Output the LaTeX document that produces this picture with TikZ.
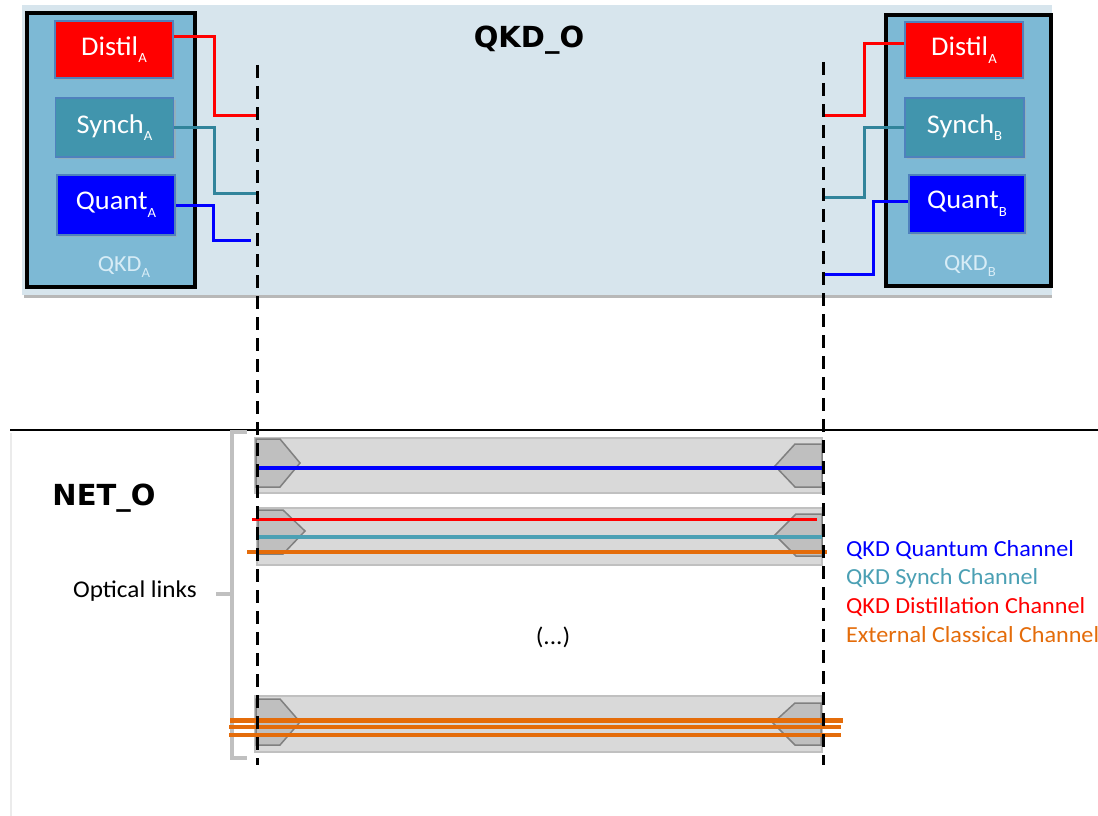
\documentclass[tikz,border=0pt]{standalone}
\usepackage{fontspec}
\setmainfont{Carlito}[FakeStretch=1.05]
\newfontfamily\titlefont{DejaVu Sans}
\usetikzlibrary{calc,shadows}
\definecolor{panelc}{RGB}{215,229,237}
\definecolor{qkdfill}{RGB}{125,185,213}
\definecolor{modborder}{RGB}{79,129,189}
\definecolor{synchfill}{RGB}{65,149,173}
\definecolor{tealline}{RGB}{49,132,155}
\definecolor{tealch}{RGB}{75,160,180}
\definecolor{orangec}{RGB}{228,108,10}
\definecolor{tubefill}{RGB}{217,217,217}
\definecolor{tubeborder}{RGB}{192,192,192}
\definecolor{connfill}{RGB}{191,191,191}
\definecolor{connborder}{RGB}{128,128,128}
\definecolor{qkdlabel}{RGB}{215,236,246}
\newcommand\subsc[1]{\raisebox{-0.28em}{\fontsize{14}{14}\selectfont #1}}
\tikzset{
  qkdbox/.style={draw=black, line width=3.5pt, fill=qkdfill, inner sep=0pt,
    drop shadow={shadow xshift=2pt, shadow yshift=-2pt, fill=black!40}},
  modbox/.style={draw=modborder, line width=1.5pt, text=white, inner sep=0pt,
    minimum width=118, minimum height=57, font=\fontsize{27}{27}\selectfont,
    drop shadow={shadow xshift=2pt, shadow yshift=-2pt, fill=black!35}},
  qkdlab/.style={text=qkdlabel, font=\fontsize{23}{23}\selectfont},
  wire/.style={line width=3pt},
  dashline/.style={line width=3pt, dash pattern=on 13pt off 8pt},
  tube/.style={draw=tubeborder, fill=tubefill, line width=2pt, inner sep=0pt},
  conn/.style={draw=connborder, fill=connfill, line width=1.5pt},
  chan/.style={line width=3.5pt},
  legend/.style={anchor=west, inner sep=0pt, font=\fontsize{23}{23}\selectfont},
  bracket/.style={draw=tubeborder, line width=4pt},
  titletext/.style={font=\titlefont\bfseries\fontsize{29}{29}\selectfont}
}
\begin{document}
\begin{tikzpicture}[x=1pt,y=-1pt]
\useasboundingbox (0,0) rectangle (1098,816);
\fill[white] (0,0) rectangle (1098,816);
% QKD_O panel
\fill[black!28] (24,294) rectangle (1052,298);
\fill[panelc] (22,5) rectangle (1052,295);
\node[titletext] (qkdo) at (529,40) {QKD\_O};
% left QKD box
\node[qkdbox, minimum width=168, minimum height=274] (qkdA) at (111,150) {};
\node[qkdlab] (qkdAlab) at (124,267) {QKD\subsc{A}};
\node[modbox, fill=red] (distA) at (114,49.5) {Distil\subsc{A}};
\node[modbox, fill=synchfill, minimum height=59] (synA) at (114.5,127.5) {Synch\subsc{A}};
\node[modbox, fill=blue, minimum height=60] (quantA) at (116,205) {Quant\subsc{A}};
% right QKD box
\node[qkdbox, minimum width=165, minimum height=271] (qkdB) at (968.5,150.5) {};
\node[qkdlab] (qkdBlab) at (970,266) {QKD\subsc{B}};
\node[modbox, fill=red, minimum height=56] (distB) at (964,50) {Distil\subsc{A}};
\node[modbox, fill=synchfill, minimum height=59, minimum width=119] (synB) at (964.5,127.5) {Synch\subsc{B}};
\node[modbox, fill=blue, minimum width=116, minimum height=58] (quantB) at (967,204) {Quant\subsc{B}};
% dashed verticals
\coordinate (lt) at (257,65);
\coordinate (lb) at (257,765);
\coordinate (rt) at (823,62);
\coordinate (rb) at (823,765);
% separator
\draw[line width=2pt] (10,430) -- (1098,430);
\draw[black!8, line width=1.5pt] (11,433) -- (11,816);
% links to dashed lines (left)
\coordinate (dlr) at (257,115);
\coordinate (dlt) at (257,193);
\coordinate (dlb) at (251,240);
\draw[wire, red] ($(distA.east)+(0,-12.5)$) -| ($(dlr)+(-43,0)$) -- (dlr);
\draw[wire, tealline] (synA.east) -| ($(dlt)+(-43,0)$) -- (dlt);
\draw[wire, blue] (quantA.east) -| ($(dlb)+(-38,0)$) -- (dlb);
% links to dashed lines (right)
\coordinate (drr) at (823,115);
\coordinate (drt) at (823,197);
\coordinate (drb) at (823,274);
\draw[wire, red] ($(distB.west)+(0,-6)$) -| ($(drr)+(41,0)$) -- (drr);
\draw[wire, tealline] (synB.west) -| ($(drt)+(41,0)$) -- (drt);
\draw[wire, blue] ($(quantB.west)+(0,-3)$) -| ($(drb)+(50,0)$) -- (drb);
% NET_O
\node[titletext] (neto) at (104,498) {NET\_O};
\node[font=\fontsize{24}{24}\selectfont] (optl) at (135,591) {Optical links};
\draw[bracket] (247,432) -- (232,432) -- (232,758) -- (247,758);
\draw[bracket] (232,594) -- (216,594);
% tubes
\node[tube, minimum width=567, minimum height=55] (t1) at (538.5,465.5) {};
\node[tube, minimum width=565, minimum height=57] (t2) at (539.5,536.5) {};
\node[tube, minimum width=567, minimum height=56] (t3) at (538.5,724) {};
% connectors
\draw[conn] (256,439) -- (280,439) -- (300,463) -- (280,487) -- (256,487) -- cycle;
\draw[conn] (822,444) -- (795,444) -- (775,466) -- (795,487) -- (822,487) -- cycle;
\draw[conn] (258,510) -- (283,510) -- (305,531) -- (283,554) -- (258,554) -- cycle;
\draw[conn] (822,514) -- (796,514) -- (775,535) -- (796,556) -- (822,556) -- cycle;
\draw[conn] (256,699) -- (280,699) -- (300,722) -- (280,745) -- (256,745) -- cycle;
\draw[conn] (821,703) -- (795,703) -- (773,723) -- (795,745) -- (821,745) -- cycle;
% channels
\draw[chan, blue] (258,468) -- (823,468);
\draw[chan, red, line width=3pt] (252,519) -- (817,519);
\draw[chan, tealch] (256,537) -- (822,537);
\draw[chan, orangec] (247,552) -- (827,552);
\draw[chan, orangec, line width=5pt] (230,720) -- (843,720);
\draw[chan, orangec, line width=4pt] (229,727) -- (841,727);
\draw[chan, orangec, line width=4pt] (229,734.5) -- (841,734.5);
% dashed lines on top
\draw[dashline] (lt) -- (lb);
\draw[dashline] (rt) -- (rb);
% middle ellipsis
\node[font=\fontsize{24}{24}\selectfont] (dots) at (553,637) {(...)};
% legend
\node[legend, text=blue] (lg1) at (846,550) {QKD Quantum Channel};
\node[legend, text=tealch] (lg2) at (846,578) {QKD Synch Channel};
\node[legend, text=red] (lg3) at (846,607) {QKD Distillation Channel};
\node[legend, text=orangec] (lg4) at (846,635) {External Classical Channel};
\end{tikzpicture}
\end{document}
